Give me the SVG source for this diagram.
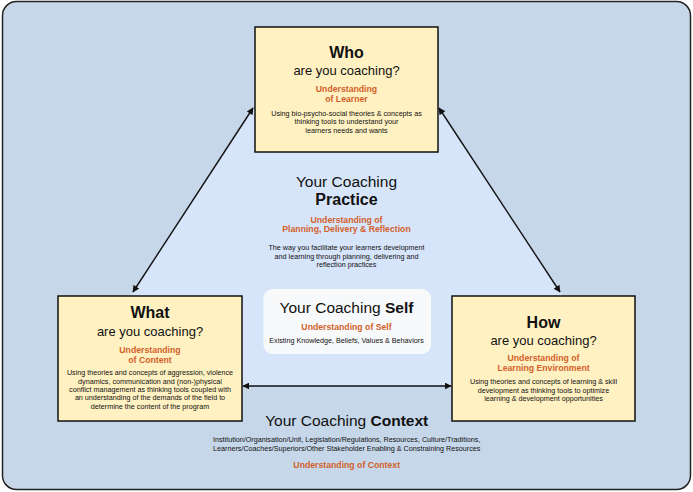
<svg xmlns="http://www.w3.org/2000/svg" width="693" height="492" viewBox="0 0 693 492">
<style>
text{font-family:"Liberation Sans",Arial,Helvetica,sans-serif;fill:#111;text-anchor:middle}
.t{font-size:15.5px}
.tb{font-size:16px;font-weight:bold}
.q{font-size:13px}
.o{font-size:8.7px;font-weight:bold;fill:#d2602a}
.b{font-size:7.2px}
.box{fill:#fff1c2;stroke:#111;stroke-width:1.5}
.arr{stroke:#111;stroke-width:1.4;fill:none;marker-start:url(#ah);marker-end:url(#ah)}
</style>
<defs>
<marker id="ah" viewBox="0 0 10 10" refX="9" refY="5" markerWidth="7" markerHeight="7" markerUnits="userSpaceOnUse" orient="auto-start-reverse">
<path d="M0,0 L10,5 L0,10 z" fill="#111"/>
</marker>
</defs>
<rect x="2.5" y="1.5" width="688" height="488" rx="14" fill="#c6d7e9" stroke="#222" stroke-width="1.5"/>
<polygon points="254,108 71,386 622,386 439,108" fill="#d7e5fa"/>
<g id="connectors">
<line class="arr" x1="253" y1="108" x2="133" y2="292"/>
<line class="arr" x1="439" y1="108" x2="560" y2="292"/>
<line class="arr" x1="243" y1="386" x2="451" y2="386"/>
</g>
<g id="who">
<rect class="box" x="255" y="27" width="183" height="125"/>
<text class="tb" x="346.5" y="58">Who</text>
<text class="q" x="346.5" y="75">are you coaching?</text>
<text class="o" x="346.5" y="92.3">Understanding</text>
<text class="o" x="346.5" y="102.3">of Learner</text>
<text class="b" x="346.5" y="115.7">Using bio-psycho-social theories &amp; concepts as</text>
<text class="b" x="346.5" y="124.3">thinking tools to understand your</text>
<text class="b" x="346.5" y="132.8">learners needs and wants</text>
</g>
<g id="practice">
<text class="t" x="346.5" y="186.7">Your Coaching</text>
<text class="tb" x="346.5" y="205">Practice</text>
<text class="o" x="346.5" y="222.7">Understanding of</text>
<text class="o" x="346.5" y="232.3">Planning, Delivery &amp; Reflection</text>
<text class="b" x="346.5" y="250">The way you facilitate your learners development</text>
<text class="b" x="346.5" y="258.7">and learning through planning, delivering and</text>
<text class="b" x="346.5" y="267.3">reflection practices</text>
</g>
<g id="self">
<rect x="263.5" y="289" width="167.5" height="65" rx="9" fill="#f8f9fb"/>
<text x="346.5" y="313.3" class="t">Your Coaching <tspan font-weight="bold">Self</tspan></text>
<text class="o" x="346.5" y="330">Understanding of Self</text>
<text class="b" x="346.5" y="343.3">Existing Knowledge, Beliefs, Values &amp; Behaviors</text>
</g>
<g id="what">
<rect class="box" x="58" y="296" width="184" height="125"/>
<text class="tb" x="150" y="318.3">What</text>
<text class="q" x="150" y="336">are you coaching?</text>
<text class="o" x="150" y="352.7">Understanding</text>
<text class="o" x="150" y="362.7">of Content</text>
<text class="b" x="150" y="375.3">Using theories and concepts of aggression, violence</text>
<text class="b" x="150" y="383.5">dynamics, communication and (non-)physical</text>
<text class="b" x="150" y="391.8">conflict management as thinking tools coupled with</text>
<text class="b" x="150" y="400.3">an understanding of the demands of the field to</text>
<text class="b" x="150" y="409">determine the content of the program</text>
</g>
<g id="how">
<rect class="box" x="452" y="296" width="183" height="125"/>
<text class="tb" x="543.5" y="327.7">How</text>
<text class="q" x="543.5" y="345">are you coaching?</text>
<text class="o" x="543.5" y="361">Understanding of</text>
<text class="o" x="543.5" y="371">Learning Environment</text>
<text class="b" x="543.5" y="384.3">Using theories and concepts of learning &amp; skill</text>
<text class="b" x="543.5" y="392.7">development as thinking tools to optimize</text>
<text class="b" x="543.5" y="401">learning &amp; development opportunities</text>
</g>
<g id="context">
<text x="346.7" y="426" class="t">Your Coaching <tspan font-weight="bold">Context</tspan></text>
<text class="b" x="346.7" y="441.7">Institution/Organisation/Unit, Legislation/Regulations, Resources, Culture/Traditions,</text>
<text class="b" x="346.7" y="450.7">Learners/Coaches/Superiors/Other Stakeholder Enabling &amp; Constraining Resources</text>
<text class="o" x="346.7" y="468.3">Understanding of Context</text>
</g>
</svg>
